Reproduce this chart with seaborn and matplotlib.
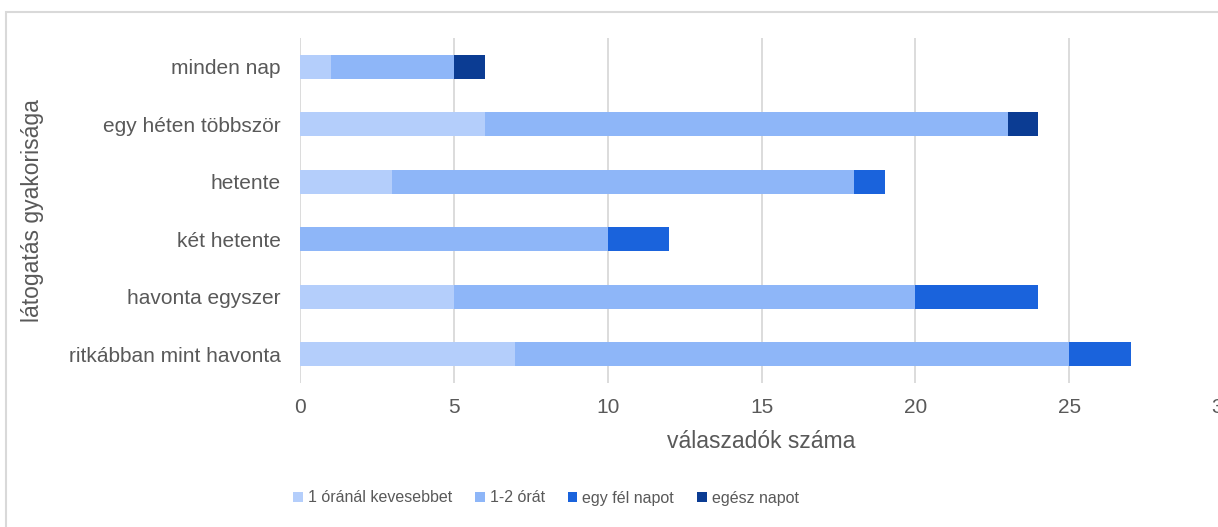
import pandas as pd
import numpy as np
import matplotlib.pyplot as plt
import seaborn as sns
from matplotlib.patches import Rectangle, Patch

categories = ["minden nap", "egy héten többször", "hetente", "két hetente",
              "havonta egyszer", "ritkábban mint havonta"]
series = ["1 óránál kevesebbet", "1-2 órát", "egy fél napot", "egész napot"]
less_1h = [1, 6, 3, 0, 5, 7]
h1_2 = [4, 17, 15, 10, 15, 18]
half_day = [0, 0, 1, 2, 4, 2]
full_day = [1, 1, 0, 0, 0, 0]
colors = ["#b4cefb", "#8eb6f8", "#1a63dc", "#0b3c93"]

data = pd.DataFrame({"kategoria": categories, series[0]: less_1h, series[1]: h1_2,
                     series[2]: half_day, series[3]: full_day})
cum = data[series].cumsum(axis=1)

sns.set_style("white")
plt.rcParams["font.family"] = ["Liberation Sans", "DejaVu Sans"]
txt = "#595959"

fig = plt.figure(figsize=(12.18, 5.27), dpi=100)
ax = fig.add_axes([300 / 1218, 1 - 383 / 527, 923 / 1218, 345 / 527])

# stacked bars: draw cumulative totals from the largest down
for s, c in zip(series[::-1], colors[::-1]):
    sns.barplot(x=cum[s], y=data["kategoria"], color=c, orient="h",
                width=0.42, ax=ax, linewidth=0, saturation=1)

ax.set_xlim(0, 30)
ax.set_xticks(range(0, 31, 5))
ax.grid(axis="x", color="#d9d9d9", linewidth=1.3)
ax.set_axisbelow(True)
for sp in ax.spines.values():
    sp.set_visible(False)
ax.tick_params(axis="y", length=0, pad=14, labelsize=15, labelcolor=txt)
ax.tick_params(axis="x", length=0, pad=11, labelsize=15, labelcolor=txt)
ax.set_xlabel("válaszadók száma", fontsize=16.5, color=txt, labelpad=9)
ax.set_ylabel("látogatás gyakorisága", fontsize=16.5, color=txt, labelpad=18)

handles = [Patch(facecolor=c, edgecolor="none", label=s) for s, c in zip(series, colors)]
fig.legend(handles=handles, loc="center", bbox_to_anchor=(546 / 1218, 1 - 498 / 527),
           ncol=4, frameon=False, fontsize=11.5, labelcolor=txt,
           handlelength=0.6, handleheight=0.6, handletextpad=0.3, columnspacing=1.45)

fig.patches.append(Rectangle((6 / 1218, -0.1), 1.2, 1 - 11.5 / 527 + 0.1,
                             transform=fig.transFigure, fill=False,
                             edgecolor="#d9d9d9", linewidth=1.5, figure=fig))

fig.savefig("out.png", dpi=100)
